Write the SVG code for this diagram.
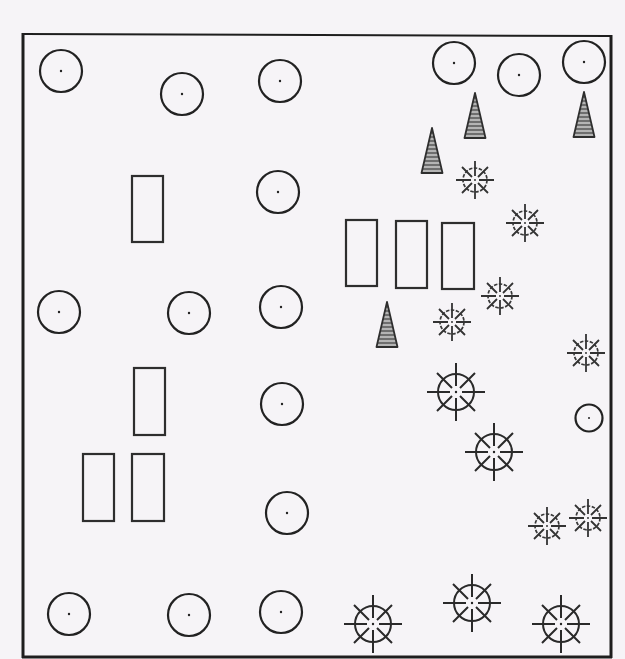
<svg xmlns="http://www.w3.org/2000/svg" xmlns:xlink="http://www.w3.org/1999/xlink" width="625" height="659" viewBox="0 0 625 659">
<style>
.c{fill:none;stroke:#222;stroke-width:2.2}
.d{fill:#222}
.r{fill:none;stroke:#2e2e2e;stroke-width:2.2}
.s{fill:none;stroke:#2a2a2a;stroke-width:2}
.ss{fill:none;stroke:#333;stroke-width:1.8}
.sd{fill:none;stroke:#3a3a3a;stroke-width:1.7;stroke-dasharray:3.5 1.5}
.t{fill:url(#stripe);stroke:#2e2e2e;stroke-width:1.8;stroke-linejoin:round}
.b{stroke:#1e1e1e;fill:none}
</style>
<defs>
<pattern id="stripe" patternUnits="userSpaceOnUse" width="8" height="4">
<rect width="8" height="4" fill="#b4b4b4"/>
<rect width="8" height="2" fill="#6e6e6e"/>
</pattern>
<g id="starL">
<circle class="s" r="18"/>
<path class="s" d="M0,-29V-6M0,6V29M-29,0H-6M6,0H29M-19,-19L-4,-4M4,4L19,19M-19,19L-4,4M4,-4L19,-19"/>
<circle class="d" r="1.2"/>
</g>
<g id="starS">
<circle class="sd" r="12"/>
<path class="ss" d="M0,-19V-4M0,4V19M-19,0H-4M4,0H19M-13,-13L-3,-3M3,3L13,13M-13,13L-3,3M3,-3L13,-13"/>
<circle class="d" r="0.9"/>
</g>
<polygon id="tri" class="t" points="0,0 10.5,45 -10.5,45"/>
</defs>
<rect width="625" height="659" fill="#f6f4f7"/>
<g id="frame">
<line class="b" x1="23" y1="34" x2="611" y2="36" stroke-width="2"/>
<line class="b" x1="23" y1="33" x2="23" y2="658" stroke-width="3"/>
<line class="b" x1="611" y1="35" x2="611" y2="658" stroke-width="3"/>
<line class="b" x1="22" y1="657" x2="612" y2="657" stroke-width="3"/>
</g>
<g id="circles">
<g id="c1"><circle class="c" cx="61" cy="71" r="21"/><circle class="d" cx="61" cy="71" r="1.2"/></g>
<g id="c2"><circle class="c" cx="182" cy="94" r="21"/><circle class="d" cx="182" cy="94" r="1.2"/></g>
<g id="c3"><circle class="c" cx="280" cy="81" r="21"/><circle class="d" cx="280" cy="81" r="1.2"/></g>
<g id="c4"><circle class="c" cx="454" cy="63" r="21"/><circle class="d" cx="454" cy="63" r="1.2"/></g>
<g id="c5"><circle class="c" cx="519" cy="75" r="21"/><circle class="d" cx="519" cy="75" r="1.2"/></g>
<g id="c6"><circle class="c" cx="584" cy="62" r="21"/><circle class="d" cx="584" cy="62" r="1.2"/></g>
<g id="c7"><circle class="c" cx="278" cy="192" r="21"/><circle class="d" cx="278" cy="192" r="1.2"/></g>
<g id="c8"><circle class="c" cx="59" cy="312" r="21"/><circle class="d" cx="59" cy="312" r="1.2"/></g>
<g id="c9"><circle class="c" cx="189" cy="313" r="21"/><circle class="d" cx="189" cy="313" r="1.2"/></g>
<g id="c10"><circle class="c" cx="281" cy="307" r="21"/><circle class="d" cx="281" cy="307" r="1.2"/></g>
<g id="c11"><circle class="c" cx="282" cy="404" r="21"/><circle class="d" cx="282" cy="404" r="1.2"/></g>
<g id="c12"><circle class="c" cx="287" cy="513" r="21"/><circle class="d" cx="287" cy="513" r="1.2"/></g>
<g id="c13"><circle class="c" cx="69" cy="614" r="21"/><circle class="d" cx="69" cy="614" r="1.2"/></g>
<g id="c14"><circle class="c" cx="189" cy="615" r="21"/><circle class="d" cx="189" cy="615" r="1.2"/></g>
<g id="c15"><circle class="c" cx="281" cy="612" r="21"/><circle class="d" cx="281" cy="612" r="1.2"/></g>
<g id="c16"><circle class="c" cx="589" cy="418" r="13.5" stroke-width="1.8"/><circle class="d" cx="589" cy="418" r="1"/></g>
</g>
<g id="rects">
<rect id="r1" class="r" x="132" y="176" width="31" height="66"/>
<rect id="r2" class="r" x="346" y="220" width="31" height="66"/>
<rect id="r3" class="r" x="396" y="221" width="31" height="67"/>
<rect id="r4" class="r" x="442" y="223" width="32" height="66"/>
<rect id="r5" class="r" x="134" y="368" width="31" height="67"/>
<rect id="r6" class="r" x="83" y="454" width="31" height="67"/>
<rect id="r7" class="r" x="132" y="454" width="32" height="67"/>
</g>
<g id="triangles">
<use id="t1" xlink:href="#tri" href="#tri" x="475" y="93"/>
<use id="t2" xlink:href="#tri" href="#tri" x="584" y="92"/>
<use id="t3" xlink:href="#tri" href="#tri" x="432" y="128"/>
<use id="t4" xlink:href="#tri" href="#tri" x="387" y="302"/>
</g>
<g id="smallstars">
<use id="s1" xlink:href="#starS" href="#starS" x="475" y="180"/>
<use id="s2" xlink:href="#starS" href="#starS" x="525" y="223"/>
<use id="s3" xlink:href="#starS" href="#starS" x="500" y="296"/>
<use id="s4" xlink:href="#starS" href="#starS" x="452" y="322"/>
<use id="s5" xlink:href="#starS" href="#starS" x="586" y="353"/>
<use id="s6" xlink:href="#starS" href="#starS" x="547" y="526"/>
<use id="s7" xlink:href="#starS" href="#starS" x="588" y="518"/>
</g>
<g id="largestars">
<use id="l1" xlink:href="#starL" href="#starL" x="456" y="392"/>
<use id="l2" xlink:href="#starL" href="#starL" x="494" y="452"/>
<use id="l3" xlink:href="#starL" href="#starL" x="373" y="624"/>
<use id="l4" xlink:href="#starL" href="#starL" x="472" y="603"/>
<use id="l5" xlink:href="#starL" href="#starL" x="561" y="624"/>
</g>
<g id="connectors"/>
</svg>
